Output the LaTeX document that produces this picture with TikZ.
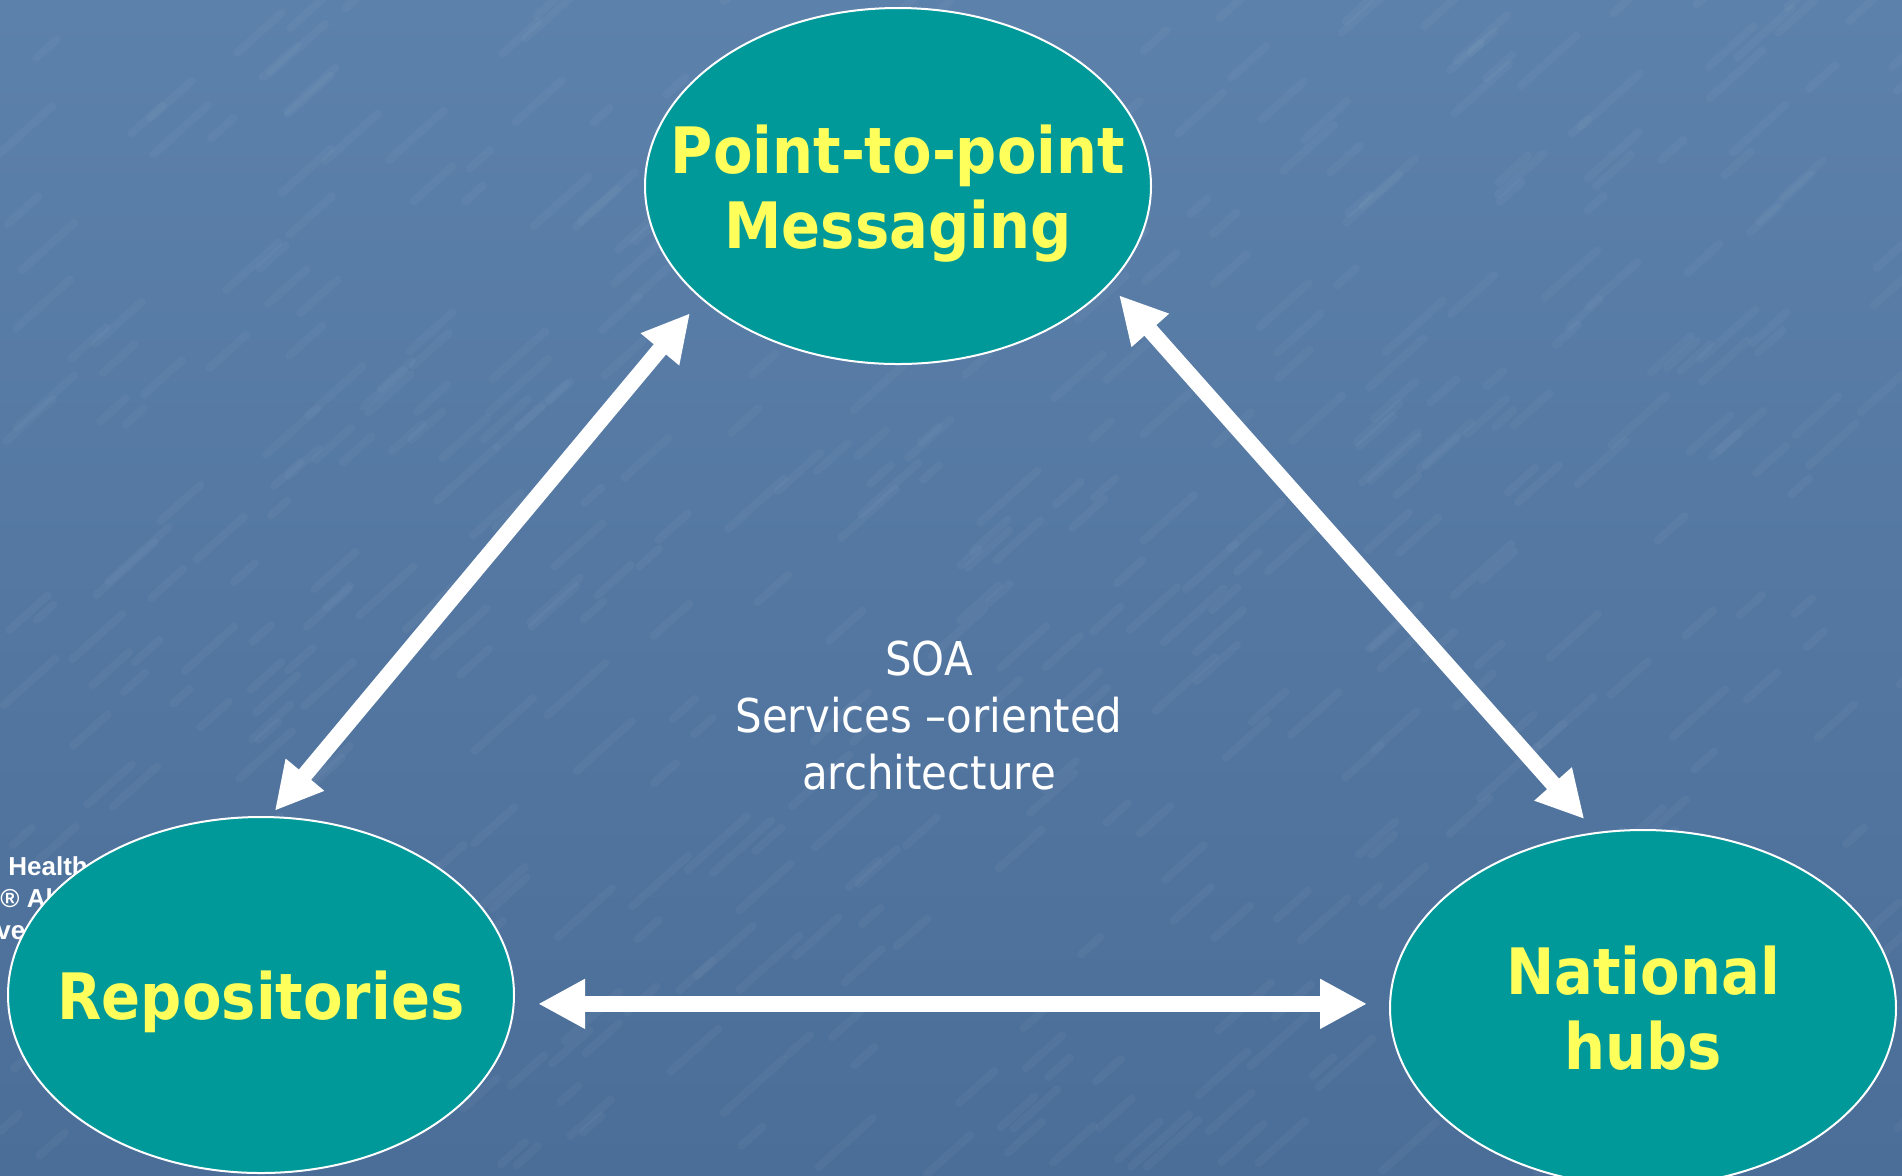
\documentclass[tikz,border=0pt]{standalone}
\usepackage{fontspec}
\usetikzlibrary{arrows.meta,shapes.geometric}
\newfontfamily\tahoma[FakeStretch=0.9]{DejaVu Sans}
\newfontfamily\arialb{Liberation Sans}
\definecolor{bgtop}{HTML}{5C81AB}
\definecolor{bgbot}{HTML}{4B6E98}
\definecolor{tealfill}{HTML}{009999}
\definecolor{lemon}{HTML}{FFFF5C}
\begin{document}
\begin{tikzpicture}[line join=round, line cap=round, >={Triangle[length=23.5pt,width=23.5pt]}, x=0.5pt, y=-0.5pt]
	\tikzset{blob/.style={ellipse, draw=white, line width=1pt, fill=tealfill, minimum width=253pt, minimum height=178pt, inner sep=0pt},
		bigtxt/.style={text=lemon, font=\tahoma\bfseries\fontsize{32pt}{37.5pt}\selectfont, align=center},
		link/.style={<->, draw=white, line width=8pt, line cap=butt},
		smalltxt/.style={text=white, font=\arialb\bfseries\fontsize{13pt}{15pt}\selectfont, inner sep=0pt, anchor=base west}}
	\clip (0,0) rectangle (1902,1175);
	\fill[top color=bgtop, bottom color=bgbot] (0,0) rectangle (1902,1175);
	\pgfmathsetseed{7}
	\foreach \k in {1,...,500}{
		\pgfmathsetmacro\px{rnd*1902} \pgfmathsetmacro\py{rnd*1175} \pgfmathsetmacro\pl{15+rnd*45}
		\draw[white, opacity=0.035, line width=4pt] (\px,\py) -- ++(\pl,-0.9*\pl);
	}
	\node[smalltxt] (cr1) at (8,875) {Health};
	\node[smalltxt] (cr2) at (0,907) {® Al};
	\node[smalltxt] (cr3) at (-4,939) {ved};
	\node[blob] (ptp) at (898,186) {};
	\node[blob] (rep) at (261,995) {};
	\node[blob] (hub) at (1643,1008) {};
	\node[bigtxt, yshift=-4pt] (ptptxt) at (ptp) {Point-to-point\\Messaging};
	\node[bigtxt, yshift=-3.5pt] (reptxt) at (rep) {Repositories};
	\node[bigtxt] (hubtxt) at (hub) {National\\hubs};
	\node[text=white, align=center, font=\tahoma\fontsize{23.3pt}{28.5pt}\selectfont] (soa) at (929,716) {SOA\\Services –oriented\\architecture};
	\draw[link, shorten <=3.5pt, shorten >=9pt] (rep.87) -- (ptp.210);
	\draw[link, shorten <=7pt, shorten >=8.75pt] (ptp.335) -- (hub.105);
	\draw[link, shorten <=11.75pt, shorten >=11pt] (rep.-2.5) -- (rep.-2.5 -| hub.west);
\end{tikzpicture}
\end{document}
